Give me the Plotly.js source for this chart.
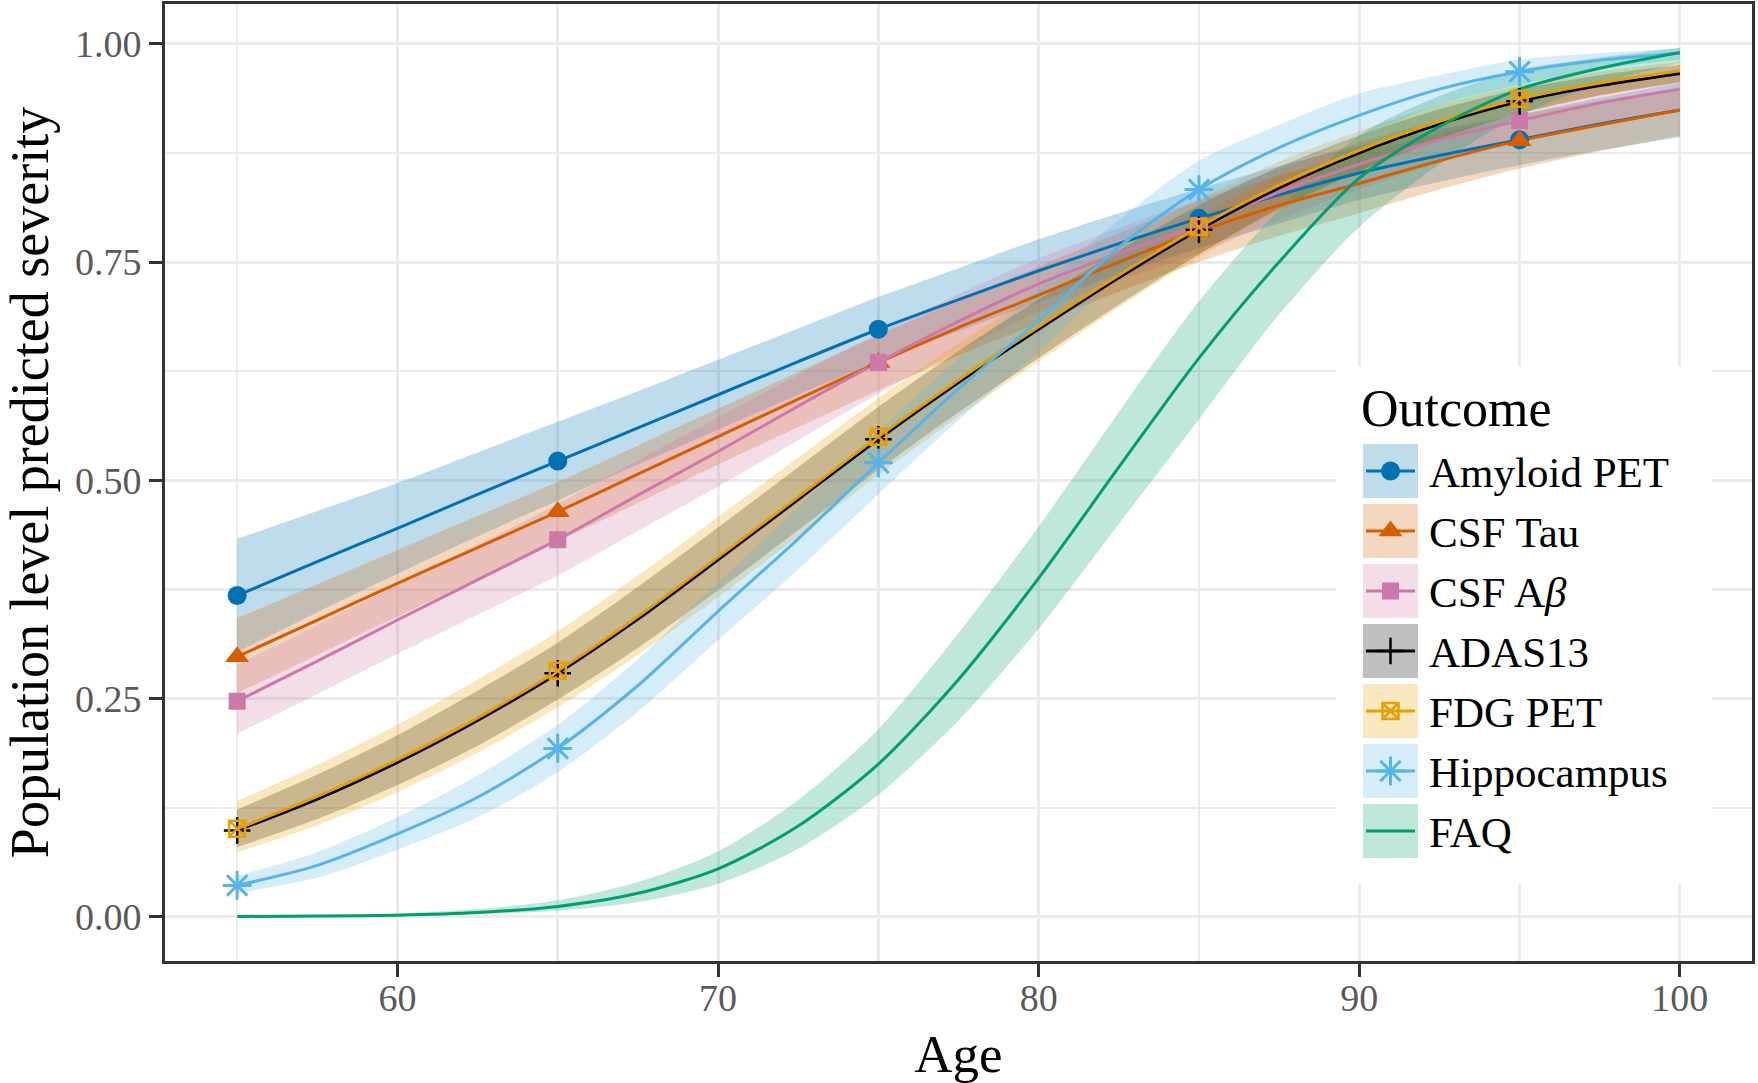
<!DOCTYPE html>
<html>
<head>
<meta charset="utf-8">
<script src="https://cdn.plot.ly/plotly-3.0.1.min.js"></script>
<style>html,body{margin:0;padding:0;background:#fff;}</style>
</head>
<body>
<div id="chart" style="width:1758px;height:1083px;"></div>
<script>
// ---------------- DATA ----------------
const ages = [55,57.5,60,62.5,65,67.5,70,72.5,75,77.5,80,82.5,85,87.5,90,92.5,95,97.5,100];

const outcomes = ["Amyloid PET","CSF Tau","CSF A<i>β</i>","ADAS13","FDG PET","Hippocampus","FAQ"];

const amyloidMean  = [0.368,0.407,0.445,0.484,0.522,0.560,0.598,0.636,0.673,0.707,0.740,0.771,0.800,0.827,0.852,0.872,0.890,0.908,0.924];
const amyloidUpper = [0.433,0.465,0.497,0.532,0.567,0.602,0.638,0.674,0.710,0.743,0.776,0.806,0.834,0.860,0.883,0.902,0.919,0.938,0.955];
const amyloidLower = [0.303,0.349,0.393,0.436,0.477,0.518,0.558,0.598,0.636,0.671,0.704,0.736,0.766,0.794,0.821,0.842,0.861,0.878,0.893];

const tauMean  = [0.298,0.340,0.382,0.423,0.464,0.507,0.550,0.593,0.635,0.675,0.712,0.750,0.785,0.815,0.840,0.866,0.889,0.907,0.924];
const tauUpper = [0.342,0.381,0.420,0.459,0.498,0.540,0.582,0.624,0.666,0.706,0.745,0.783,0.820,0.849,0.874,0.897,0.918,0.935,0.950];
const tauLower = [0.256,0.300,0.344,0.387,0.430,0.474,0.518,0.561,0.603,0.643,0.680,0.716,0.750,0.780,0.806,0.833,0.857,0.877,0.895];

const abetaMean  = [0.247,0.293,0.340,0.386,0.432,0.483,0.533,0.585,0.635,0.682,0.725,0.760,0.792,0.830,0.862,0.890,0.912,0.932,0.948];
const abetaUpper = [0.289,0.334,0.380,0.426,0.473,0.523,0.572,0.621,0.668,0.713,0.754,0.789,0.822,0.857,0.887,0.912,0.932,0.951,0.965];
const abetaLower = [0.210,0.255,0.301,0.346,0.391,0.442,0.493,0.546,0.599,0.648,0.693,0.729,0.760,0.799,0.833,0.864,0.888,0.910,0.927];

const adasMean  = [0.099,0.135,0.177,0.225,0.279,0.341,0.409,0.478,0.547,0.612,0.673,0.732,0.787,0.835,0.875,0.908,0.934,0.952,0.966];
const adasUpper = [0.123,0.163,0.208,0.259,0.314,0.378,0.446,0.515,0.584,0.648,0.707,0.763,0.815,0.859,0.895,0.925,0.948,0.964,0.976];
const adasLower = [0.080,0.112,0.151,0.196,0.249,0.308,0.374,0.443,0.512,0.578,0.640,0.701,0.759,0.811,0.854,0.891,0.920,0.941,0.956];

const fdgMean  = [0.101,0.138,0.180,0.228,0.282,0.344,0.412,0.481,0.550,0.615,0.676,0.735,0.790,0.838,0.878,0.911,0.937,0.955,0.969];
const fdgUpper = [0.133,0.174,0.220,0.272,0.327,0.391,0.458,0.526,0.594,0.657,0.715,0.771,0.822,0.865,0.900,0.930,0.952,0.968,0.979];
const fdgLower = [0.074,0.105,0.143,0.188,0.240,0.300,0.366,0.436,0.506,0.573,0.636,0.698,0.756,0.808,0.852,0.889,0.919,0.940,0.955];

const hippoMean  = [0.036,0.059,0.095,0.137,0.193,0.265,0.350,0.433,0.520,0.605,0.683,0.767,0.833,0.881,0.918,0.948,0.968,0.981,0.989];
const hippoUpper = [0.047,0.074,0.114,0.162,0.220,0.295,0.383,0.469,0.556,0.640,0.719,0.798,0.866,0.907,0.943,0.964,0.982,0.989,0.995];
const hippoLower = [0.027,0.045,0.077,0.114,0.166,0.235,0.317,0.398,0.484,0.569,0.647,0.733,0.800,0.852,0.893,0.930,0.953,0.971,0.982];

const faqMean  = [0.0005,0.001,0.002,0.005,0.012,0.027,0.055,0.104,0.175,0.272,0.388,0.515,0.640,0.750,0.846,0.905,0.948,0.972,0.990];
const faqUpper = [0.0008,0.002,0.004,0.009,0.019,0.040,0.075,0.134,0.215,0.325,0.447,0.578,0.705,0.810,0.895,0.940,0.970,0.984,0.995];
const faqLower = [0.0003,0.0006,0.001,0.003,0.007,0.017,0.038,0.078,0.140,0.225,0.330,0.450,0.570,0.690,0.790,0.862,0.918,0.954,0.978];

const markerAges = [55,65,75,85,95];

const xTicks = [60,70,80,90,100];
const yTicks = [0,0.25,0.5,0.75,1];
const yTickLabels = ["0.00","0.25","0.50","0.75","1.00"];

// ---------------- STYLE ----------------
const FONT = '"Liberation Serif", "Times New Roman", serif';
const series = [
  {name: outcomes[0], mean: amyloidMean, lo: amyloidLower, hi: amyloidUpper, color: '#0072B2', rgb: '0,114,178',
   marker: {symbol: 'circle', size: 19}},
  {name: outcomes[1], mean: tauMean, lo: tauLower, hi: tauUpper, color: '#D55E00', rgb: '213,94,0',
   marker: {symbol: 'triangle-up', size: 21}},
  {name: outcomes[2], mean: abetaMean, lo: abetaLower, hi: abetaUpper, color: '#CC79A7', rgb: '204,121,167',
   marker: {symbol: 'square', size: 17}},
  {name: outcomes[3], mean: adasMean, lo: adasLower, hi: adasUpper, color: '#000000', rgb: '0,0,0',
   marker: {symbol: 'cross-thin-open', size: 19, line: {width: 2.5}}},
  {name: outcomes[4], mean: fdgMean, lo: fdgLower, hi: fdgUpper, color: '#E69F00', rgb: '230,159,0',
   marker: {symbol: 'square-x-open', size: 16, line: {width: 2.5}}},
  {name: outcomes[5], mean: hippoMean, lo: hippoLower, hi: hippoUpper, color: '#56B4E9', rgb: '86,180,233',
   marker: {symbol: 'asterisk-open', size: 24, line: {width: 3}}},
  {name: outcomes[6], mean: faqMean, lo: faqLower, hi: faqUpper, color: '#009E73', rgb: '0,158,115',
   marker: null}
];

const traces = [];
// ribbons
series.forEach(s => {
  traces.push({x: ages, y: s.lo, mode: 'lines', line: {width: 0, shape: 'spline', smoothing: 0.8},
    hoverinfo: 'skip', showlegend: false});
  traces.push({x: ages, y: s.hi, mode: 'lines', fill: 'tonexty', fillcolor: 'rgba(' + s.rgb + ',0.25)',
    line: {width: 0, shape: 'spline', smoothing: 0.8}, hoverinfo: 'skip', showlegend: false});
});
// lines
series.forEach(s => {
  traces.push({x: ages, y: s.mean, mode: 'lines', name: s.name,
    line: {color: s.color, width: 3, shape: 'spline', smoothing: 0.8}, showlegend: false});
});
// points
const mIdx = markerAges.map(a => ages.indexOf(a));
series.forEach(s => {
  if (!s.marker) return;
  const m = Object.assign({color: s.color}, s.marker);
  if (m.line) m.line = Object.assign({color: s.color}, m.line);
  traces.push({x: mIdx.map(i => ages[i]), y: mIdx.map(i => s.mean[i]), mode: 'markers',
    marker: m, showlegend: false, name: s.name});
});

// ---------------- custom legend (layout, on a hidden overlay axis) ----------------
const PL = 165, PR = 1752, PT = 4, PB = 961;
const fx = X => (X - PL) / (PR - PL);
const fy = Y => (PB - Y) / (PB - PT);
function rect(X0, Y0, X1, Y1, fill) {
  return {x: [fx(X0), fx(X1), fx(X1), fx(X0), fx(X0)], y: [fy(Y0), fy(Y0), fy(Y1), fy(Y1), fy(Y0)],
    xaxis: 'x2', yaxis: 'y2', mode: 'lines', fill: 'toself', fillcolor: fill, line: {width: 0},
    hoverinfo: 'skip', showlegend: false};
}
traces.push(rect(1336, 367, 1712, 884, '#ffffff'));
const annotations = [];
annotations.push({xref: 'paper', yref: 'paper', x: fx(1359), y: fy(408), xanchor: 'left', yanchor: 'middle',
  text: 'Outcome', showarrow: false, font: {family: FONT, size: 52, color: '#000'}});
series.forEach((s, k) => {
  const cy = 471 + 60 * k;
  traces.push(rect(1363, cy - 27, 1418, cy + 27, 'rgba(' + s.rgb + ',0.25)'));
  traces.push({x: [fx(1366), fx(1415)], y: [fy(cy), fy(cy)], xaxis: 'x2', yaxis: 'y2', mode: 'lines',
    line: {color: s.color, width: 3}, hoverinfo: 'skip', showlegend: false});
  if (s.marker) {
    const m = Object.assign({color: s.color}, s.marker);
    if (m.line) m.line = Object.assign({color: s.color}, m.line);
    traces.push({x: [fx(1390.5)], y: [fy(cy)], xaxis: 'x2', yaxis: 'y2', mode: 'markers', marker: m,
      hoverinfo: 'skip', showlegend: false});
  }
  annotations.push({xref: 'paper', yref: 'paper', x: fx(1427), y: fy(cy + 1), xanchor: 'left', yanchor: 'middle',
    text: s.name, showarrow: false, font: {family: FONT, size: 43, color: '#000'}});
});

const axisCommon = {
  showline: true, mirror: true, linecolor: '#333333', linewidth: 3,
  ticks: 'outside', ticklen: 13, tickwidth: 3, tickcolor: '#333333',
  showgrid: true, gridcolor: '#EBEBEB', gridwidth: 3, zeroline: false,
  tickfont: {family: FONT, size: 38, color: '#595959'}
};

const layout = {
  width: 1758, height: 1083,
  margin: {l: PL, r: 1758 - PR, t: PT, b: 1083 - PB},
  paper_bgcolor: '#ffffff', plot_bgcolor: '#ffffff',
  showlegend: false,
  font: {family: FONT},
  xaxis: Object.assign({}, axisCommon, {
    range: [52.75, 102.25], tickmode: 'array', tickvals: xTicks,
    ticklabelstandoff: -12,
    minor: {tick0: 55, dtick: 10, showgrid: true, gridcolor: '#EBEBEB', gridwidth: 2.5},
    title: {text: 'Age', font: {family: FONT, size: 53, color: '#000'}, standoff: 26}
  }),
  yaxis: Object.assign({}, axisCommon, {
    range: [-0.0505, 1.0455], tickmode: 'array', tickvals: yTicks, ticktext: yTickLabels,
    minor: {tick0: 0.125, dtick: 0.25, showgrid: true, gridcolor: '#EBEBEB', gridwidth: 2.5},
    title: {text: 'Population level predicted severity', font: {family: FONT, size: 54, color: '#000'}, standoff: 31}
  }),
  xaxis2: {overlaying: 'x', range: [0, 1], visible: false, fixedrange: true},
  yaxis2: {overlaying: 'y', range: [0, 1], visible: false, fixedrange: true},
  annotations: annotations
};

Plotly.newPlot('chart', traces, layout, {displayModeBar: false, staticPlot: true});
</script>
</body>
</html>
